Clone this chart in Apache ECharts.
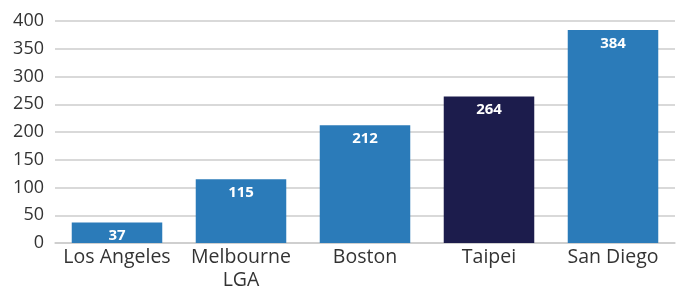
<!DOCTYPE html>
<html><head><meta charset="utf-8">
<script src="https://cdn.jsdelivr.net/npm/echarts@6/dist/echarts.min.js"></script>
<style>html,body{margin:0;padding:0;background:#fff}#c{width:680px;height:288px}</style>
</head><body><div id="c"></div>
<script>
const categories = ["Los Angeles", "Melbourne\nLGA", "Boston", "Taipei", "San Diego"];
const values = [37, 115, 212, 264, 384];
const barColors = ["#2B7BB9", "#2B7BB9", "#2B7BB9", "#1C1C4C", "#2B7BB9"];
const yTicks = { min: 0, max: 400, interval: 50 };

const chart = echarts.init(document.getElementById('c'), null, { renderer: 'canvas' });
chart.setOption({
  animation: false,
  grid: { left: 55, right: 5, top: 21, bottom: 45, outerBoundsMode: 'none', containLabel: false },
  xAxis: {
    type: 'category', data: categories,
    axisLine: { show: true, lineStyle: { color: '#cccccc', width: 1.5 } },
    axisTick: { show: false },
    axisLabel: { interval: 0, hideOverlap: false, color: '#333333', fontSize: 19.5, fontFamily: 'Open Sans', lineHeight: 23, margin: 3 }
  },
  yAxis: {
    type: 'value', min: yTicks.min, max: yTicks.max, interval: yTicks.interval,
    splitLine: { lineStyle: { color: '#cccccc', width: 1.5 } },
    axisLine: { show: false }, axisTick: { show: false },
    axisLabel: { color: '#333333', fontSize: 18, fontFamily: 'Open Sans', margin: 11 }
  },
  series: [{
    type: 'bar',
    data: values.map((v, i) => ({ value: v, itemStyle: { color: barColors[i] } })),
    barCategoryGap: '27%',
    label: { show: true, position: 'insideTop', distance: 6, color: '#ffffff', fontWeight: 'bold', fontSize: 15, fontFamily: 'Open Sans' }
  }]
});
</script></body></html>
